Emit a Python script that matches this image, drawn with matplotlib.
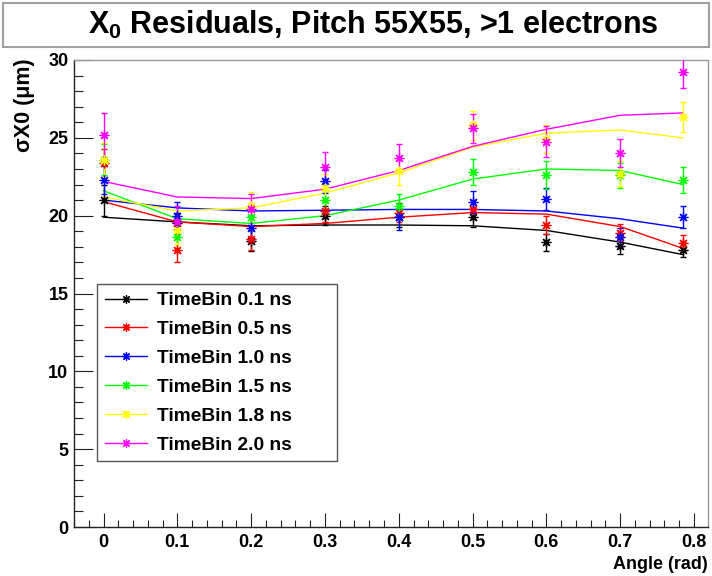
import matplotlib
matplotlib.use('Agg')
import matplotlib.pyplot as plt
from matplotlib.lines import Line2D
from matplotlib.patches import Rectangle
from matplotlib.ticker import MultipleLocator, FuncFormatter

plt.rcParams['font.family'] = ['Liberation Sans', 'DejaVu Sans']
plt.rcParams['font.weight'] = 'bold'
plt.rcParams['mathtext.fontset'] = 'custom'
plt.rcParams['mathtext.rm'] = 'Liberation Sans:bold'
plt.rcParams['mathtext.it'] = 'Liberation Sans:bold'
plt.rcParams['mathtext.bf'] = 'Liberation Sans:bold'

# ---------------- data ----------------
angles = [0.0, 0.1, 0.2, 0.3, 0.4, 0.5, 0.6, 0.7, 0.785]

series_labels = ['TimeBin 0.1 ns', 'TimeBin 0.5 ns', 'TimeBin 1.0 ns',
                 'TimeBin 1.5 ns', 'TimeBin 1.8 ns', 'TimeBin 2.0 ns']
series_colors = ['#000000', '#ff0000', '#0000ff', '#00ff00', '#ffff00', '#ff00ff']

sigma_01 = [21.0, 19.5, 18.4, 20.0, 19.9, 19.9, 18.3, 18.05, 17.8]
sigma_05 = [23.4, 17.8, 18.5, 20.3, 20.2, 20.4, 19.4, 18.9, 18.25]
sigma_10 = [22.3, 20.0, 19.2, 22.2, 19.9, 20.9, 21.07, 18.6, 19.9]
sigma_15 = [23.6, 18.65, 19.9, 21.0, 20.6, 22.8, 22.6, 22.6, 22.3]
sigma_18 = [23.6, 19.1, 20.6, 21.8, 22.9, 25.8, 24.9, 22.7, 26.35]
sigma_20 = [25.2, 19.6, 20.4, 23.1, 23.7, 25.6, 24.75, 24.05, 29.2]

err_01 = [1.0, 0.7, 0.7, 0.6, 0.6, 0.6, 0.55, 0.5, 0.45]
err_05 = [0.9, 0.8, 0.7, 0.7, 0.6, 0.6, 0.6, 0.55, 0.5]
err_10 = [0.9, 0.85, 0.75, 0.75, 0.85, 0.7, 0.7, 0.6, 0.7]
err_15 = [1.0, 0.9, 0.8, 0.8, 0.8, 0.85, 0.9, 0.8, 0.85]
err_18 = [1.1, 0.9, 0.9, 0.9, 0.9, 0.95, 0.9, 0.8, 0.95]
err_20 = [1.4, 1.0, 1.0, 1.0, 0.9, 0.95, 1.0, 0.9, 1.0]

fit_01 = [19.9, 19.6, 19.35, 19.4, 19.4, 19.35, 19.05, 18.3, 17.5]
fit_05 = [20.9, 19.6, 19.3, 19.5, 19.9, 20.2, 20.1, 19.3, 17.9]
fit_10 = [21.0, 20.5, 20.3, 20.35, 20.4, 20.4, 20.3, 19.8, 19.2]
fit_15 = [21.6, 19.8, 19.5, 20.0, 21.0, 22.35, 23.0, 22.9, 22.0]
fit_18 = [21.2, 20.3, 20.5, 21.45, 22.75, 24.4, 25.3, 25.5, 25.0]
fit_20 = [22.2, 21.2, 21.1, 21.7, 22.9, 24.45, 25.55, 26.45, 26.6]

sigmas = [sigma_01, sigma_05, sigma_10, sigma_15, sigma_18, sigma_20]
errs = [err_01, err_05, err_10, err_15, err_18, err_20]
fits = [fit_01, fit_05, fit_10, fit_15, fit_18, fit_20]

# ---------------- figure ----------------
W, H = 712, 576
fig = plt.figure(figsize=(W / 100, H / 100), dpi=100)
ax = fig.add_axes([74 / W, 49 / H, 634 / W, 467 / H])

star = (8, 2, 0)
for s, e, f, c in zip(sigmas, errs, fits, series_colors):
    ax.plot(angles, f, color=c, lw=1.0, zorder=2)
    ax.errorbar(angles, s, yerr=e, fmt='none', ecolor=c, elinewidth=1.0,
                capsize=2.2, capthick=1.0, zorder=3)
    ax.plot(angles, s, ls='none', marker=star, ms=7, mew=0.9, color=c, zorder=4)

ax.set_xlim(-0.04, 0.819)
ax.set_ylim(0, 30)
ax.xaxis.set_major_locator(MultipleLocator(0.1))
ax.xaxis.set_minor_locator(MultipleLocator(0.02))
ax.yaxis.set_major_locator(MultipleLocator(5))
ax.yaxis.set_minor_locator(MultipleLocator(1))
ax.xaxis.set_major_formatter(FuncFormatter(lambda v, p: '0' if abs(v) < 1e-9 else f'{v:.1f}'))
ax.yaxis.set_major_formatter(FuncFormatter(lambda v, p: f'{v:.0f}'))

ax.tick_params(axis='x', which='major', direction='in', length=10.1, width=0.8,
               labelsize=13, pad=5, color='#222222')
ax.tick_params(axis='x', which='minor', direction='in', length=5.0, width=0.8, color='#222222')
ax.tick_params(axis='y', which='major', direction='in', length=13.7, width=0.8,
               labelsize=13, pad=4, color='#222222')
ax.tick_params(axis='y', which='minor', direction='in', length=6.8, width=0.8, color='#222222')
for lab in ax.get_xticklabels() + ax.get_yticklabels():
    lab.set_fontweight('bold')

ax.spines['left'].set_color('#222222')
ax.spines['bottom'].set_color('#222222')
ax.spines['top'].set_color('#999999')
ax.spines['right'].set_color('#999999')
for sp in ax.spines.values():
    sp.set_linewidth(1.0)

ax.set_xlabel('Angle (rad)', fontsize=13, fontweight='bold', loc='right')
ax.xaxis.set_label_coords(1.0, -0.062)
ax.set_ylabel('σX0 (μm)', fontsize=15.5, fontweight='bold', loc='top')
ax.yaxis.set_label_coords(-0.062, 1.004)

handles = [Line2D([0], [0], color=c, lw=1.0, marker=star, ms=6, mew=0.9)
           for c in series_colors]
leg = ax.legend(handles, series_labels, loc='upper left',
                bbox_to_anchor=(0.0363, 0.1435, 0.379, 0.3765), mode='expand',
                borderaxespad=0, frameon=True, fancybox=False, framealpha=1,
                edgecolor='#555555', prop={'size': 13.8, 'weight': 'bold'},
                handlelength=2.2, handletextpad=0.55, labelspacing=0.60,
                borderpad=0.40)
leg.get_frame().set_linewidth(1.0)

# title box
fig.patches.append(Rectangle((3 / W, 1 - 47 / H), 706 / W, 44 / H,
                             transform=fig.transFigure, facecolor='white',
                             edgecolor='#a0a0a0', lw=1.5))
fig.text(373 / W, 1 - 25 / H, r'X$_0$ Residuals, Pitch 55X55, >1 electrons',
         ha='center', va='center', fontsize=22, fontweight='bold')

fig.savefig('out.png', dpi=100)
